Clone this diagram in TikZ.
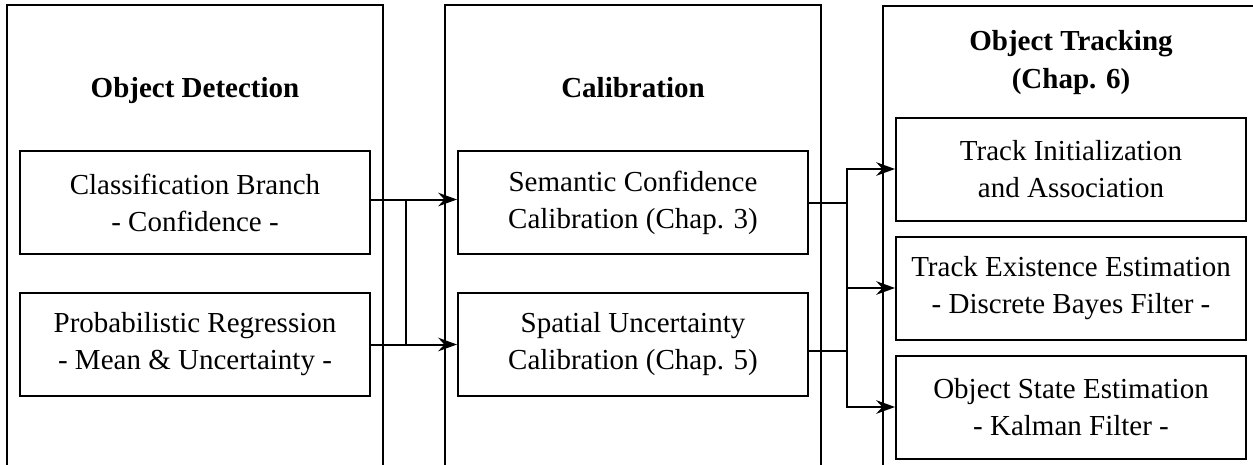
\documentclass[tikz,border=0pt]{standalone}
\usepackage{fontspec}
\setmainfont{Liberation Serif}
\usetikzlibrary{positioning,fit,arrows.meta}
\tikzstyle{block} = [draw,line width=0.8pt,align=center,minimum width=140pt,minimum height=41.2pt,inner sep=0]
\tikzstyle{stage} = [draw,line width=0.8pt,inner xsep=4.8pt]
\tikzstyle{title} = [font=\fontsize{11.6pt}{15.2pt}\selectfont\bfseries,align=center,inner sep=0]
\tikzstyle{link} = [-{Stealth[length=7.5pt,width=5.4pt]},line width=0.8pt]
\tikzstyle{wire} = [-,line width=0.8pt]
\def \gap {34.4pt}

\begin{document}
\begin{tikzpicture}[font=\fontsize{11.6pt}{14.8pt}\selectfont, node distance=\gap]
      \path[use as bounding box,clip] (-78pt,81pt) rectangle (423.2pt,-104.6pt);
      \node[block] (cls) {Classification Branch\\- Confidence -};
      \node[block,below=14.8pt of cls] (reg) {Probabilistic Regression\\- Mean \& Uncertainty -};
      \node[block,right=of cls] (sem) {Semantic Confidence\\Calibration (Chap. 3)};
      \node[block,right=of reg] (spa) {Spatial Uncertainty\\Calibration (Chap. 5)};
      \node[block,right=of sem,yshift=13.4pt] (ini) {Track Initialization\\and Association};
      \node[block,below=5.6pt of ini] (exi) {Track Existence Estimation\\- Discrete Bayes Filter -};
      \node[block,below=5.6pt of exi] (est) {Object State Estimation\\- Kalman Filter -};
      \node[stage,fit=(cls)(reg),inner ysep=58pt] (det) {};
      \node[stage,fit=(sem)(spa),inner ysep=58pt] (cal) {};
      \node[stage,fit=(ini)(est),inner ysep=44.4pt] (trk) {};
      \node[title,above=21.2pt of cls,anchor=base] (dett) {Object Detection};
      \node[title,above=21.2pt of sem,anchor=base] (calt) {Calibration};
      \node[title,above=8.4pt of ini] (trkt) {Object Tracking\\(Chap. 6)};
      \coordinate[right=14pt of cls,yshift=1.2pt] (cj);
      \coordinate[right=14pt of reg] (rj);
      \coordinate[right=15.2pt of sem] (sj);
      \coordinate[right=15.2pt of spa,yshift=-2.6pt] (pj);
      \draw[link] ([yshift=1.2pt]cls.east) -- ([yshift=1.2pt]sem.west);
      \draw[link] (reg.east) -- (spa.west);
      \draw[wire] (cj) -- (rj);
      \draw[wire] (sem.east) -- (sj);
      \draw[wire] ([yshift=-2.6pt]spa.east) -- (pj);
      \draw[wire] (sj) -- (pj);
      \draw[link] (sj) |- (ini.west);
      \draw[link] (sj) |- (exi.west);
      \draw[link] (pj) |- (est.west);
    \end{tikzpicture}
\end{document}
